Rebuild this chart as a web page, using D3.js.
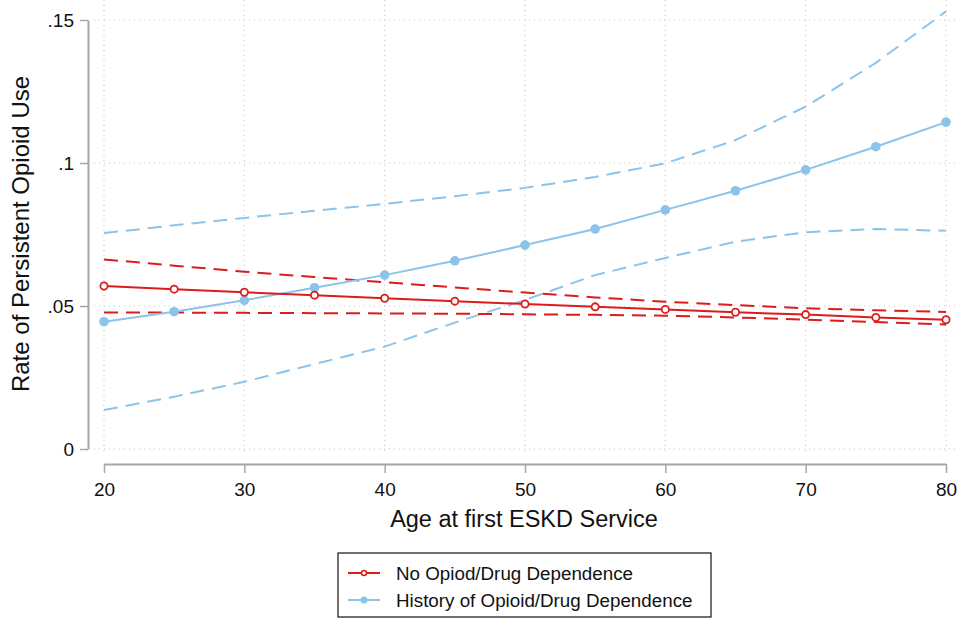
<!DOCTYPE html>
<html>
<head>
<meta charset="utf-8">
<script src="https://cdn.jsdelivr.net/npm/d3@7"></script>
<style>
  body { margin: 0; background: #fff; }
  text { font-family: "Liberation Sans", Arial, sans-serif; fill: #111; }
</style>
</head>
<body>
<div id="chart"></div>
<script>
// Ages (x) and predicted rates with 95% bounds
const ages = [20, 25, 30, 35, 40, 45, 50, 55, 60, 65, 70, 75, 80];

const noDep    = [0.0570, 0.0559, 0.0548, 0.0538, 0.0527, 0.0517, 0.0507, 0.0497, 0.0488, 0.0478, 0.0470, 0.0460, 0.0452];
const noDepHi  = [0.0663, 0.0641, 0.0620, 0.0601, 0.0583, 0.0565, 0.0547, 0.0530, 0.0515, 0.0503, 0.0492, 0.0485, 0.0479];
const noDepLo  = [0.0477, 0.0477, 0.0476, 0.0475, 0.0474, 0.0473, 0.0471, 0.0469, 0.0466, 0.0460, 0.0452, 0.0444, 0.0435];

const histDep   = [0.0445, 0.0480, 0.0520, 0.0564, 0.0608, 0.0658, 0.0713, 0.0769, 0.0836, 0.0903, 0.0976, 0.1057, 0.1143];
const histDepHi = [0.0755, 0.0782, 0.0808, 0.0833, 0.0857, 0.0884, 0.0913, 0.0951, 0.0999, 0.1080, 0.1197, 0.1350, 0.1530];
const histDepLo = [0.0136, 0.0183, 0.0235, 0.0297, 0.0358, 0.0442, 0.0521, 0.0608, 0.0668, 0.0725, 0.0758, 0.0769, 0.0763];

const xTicks = [20, 30, 40, 50, 60, 70, 80];
const yTicks = [0, 0.05, 0.1, 0.15];
const yTickLabels = ["0", ".05", ".1", ".15"];

const seriesNames = ["No Opiod/Drug Dependence", "History of Opioid/Drug Dependence"];
const red = "#dc1c1c";
const blue = "#8bc3ea";

const W = 957, H = 618;

const svg = d3.select("#chart")
    .append("svg")
    .attr("width", W)
    .attr("height", H);

const x = d3.scaleLinear().domain([20, 80]).range([104, 946]);
const y = d3.scaleLinear().domain([0, 0.15]).range([449, 20]);

// Gridlines (dotted)
const grid = svg.append("g").attr("stroke", "#c8c8c8").attr("stroke-width", 1.2).attr("stroke-dasharray", "1,4");
grid.selectAll(".gx").data(xTicks).enter().append("line")
    .attr("x1", d => x(d)).attr("x2", d => x(d))
    .attr("y1", 0).attr("y2", 455);
grid.selectAll(".gy").data(yTicks).enter().append("line")
    .attr("x1", 94).attr("x2", 956)
    .attr("y1", d => y(d)).attr("y2", d => y(d));

// Y axis
const yAxis = svg.append("g")
    .attr("transform", "translate(88,0)")
    .call(d3.axisLeft(y).tickValues(yTicks).tickSize(8).tickSizeOuter(0)
        .tickFormat((d, i) => yTickLabels[i]));

// X axis
const xAxis = svg.append("g")
    .attr("transform", "translate(0,464)")
    .call(d3.axisBottom(x).tickValues(xTicks).tickSize(9).tickSizeOuter(0));

[yAxis, xAxis].forEach(g => {
    g.select(".domain").attr("stroke", "#a6a6a6").attr("stroke-width", 2);
    g.selectAll(".tick line").attr("stroke", "#a6a6a6").attr("stroke-width", 1.5);
    g.selectAll(".tick text").style("font-size", "19px").attr("fill", "#111")
        .style("font-family", "'Liberation Sans', Arial, sans-serif");
});
yAxis.selectAll(".tick text").attr("x", -14);
xAxis.selectAll(".tick text").attr("y", 19);

// Axis titles
svg.append("text")
    .attr("x", 524).attr("y", 527)
    .attr("text-anchor", "middle")
    .style("font-size", "23.5px")
    .text("Age at first ESKD Service");

svg.append("text")
    .attr("transform", "rotate(-90)")
    .attr("x", -234).attr("y", 29)
    .attr("text-anchor", "middle")
    .style("font-size", "24px")
    .text("Rate of Persistent Opioid Use");

const line = d3.line().x(d => x(d[0])).y(d => y(d[1]));
const pairs = vals => ages.map((a, i) => [a, vals[i]]);

// Confidence bounds (dashed)
[[histDepHi, blue], [histDepLo, blue], [noDepHi, red], [noDepLo, red]].forEach(([vals, col]) => {
    svg.append("path")
        .datum(pairs(vals))
        .attr("d", line)
        .attr("fill", "none")
        .attr("stroke", col)
        .attr("stroke-width", 2)
        .attr("stroke-dasharray", "14,8");
});

// Blue series
svg.append("path")
    .datum(pairs(histDep))
    .attr("d", line)
    .attr("fill", "none")
    .attr("stroke", blue)
    .attr("stroke-width", 2);
svg.selectAll(".bdot").data(pairs(histDep)).enter().append("circle")
    .attr("cx", d => x(d[0])).attr("cy", d => y(d[1]))
    .attr("r", 4.8).attr("fill", blue);

// Red series
svg.append("path")
    .datum(pairs(noDep))
    .attr("d", line)
    .attr("fill", "none")
    .attr("stroke", red)
    .attr("stroke-width", 2);
svg.selectAll(".rdot").data(pairs(noDep)).enter().append("circle")
    .attr("cx", d => x(d[0])).attr("cy", d => y(d[1]))
    .attr("r", 3.6).attr("fill", "#fff").attr("stroke", red).attr("stroke-width", 1.8);

// Legend
const legend = svg.append("g");
legend.append("rect")
    .attr("x", 338).attr("y", 553)
    .attr("width", 373).attr("height", 64)
    .attr("fill", "#fff").attr("stroke", "#111").attr("stroke-width", 1.2);

const legendItems = [
    { name: seriesNames[0], color: red, hollow: true },
    { name: seriesNames[1], color: blue, hollow: false }
];
legendItems.forEach((d, i) => {
    const cy = 573 + i * 27;
    legend.append("line")
        .attr("x1", 348).attr("x2", 380).attr("y1", cy).attr("y2", cy)
        .attr("stroke", d.color).attr("stroke-width", 2);
    legend.append("circle")
        .attr("cx", 364).attr("cy", cy)
        .attr("r", d.hollow ? 2.5 : 3.5)
        .attr("fill", d.hollow ? "#fff" : d.color)
        .attr("stroke", d.hollow ? d.color : "none")
        .attr("stroke-width", 1.5);
    legend.append("text")
        .attr("x", 396).attr("y", cy + 7)
        .style("font-size", "18.8px")
        .text(d.name);
});
</script>
</body>
</html>
